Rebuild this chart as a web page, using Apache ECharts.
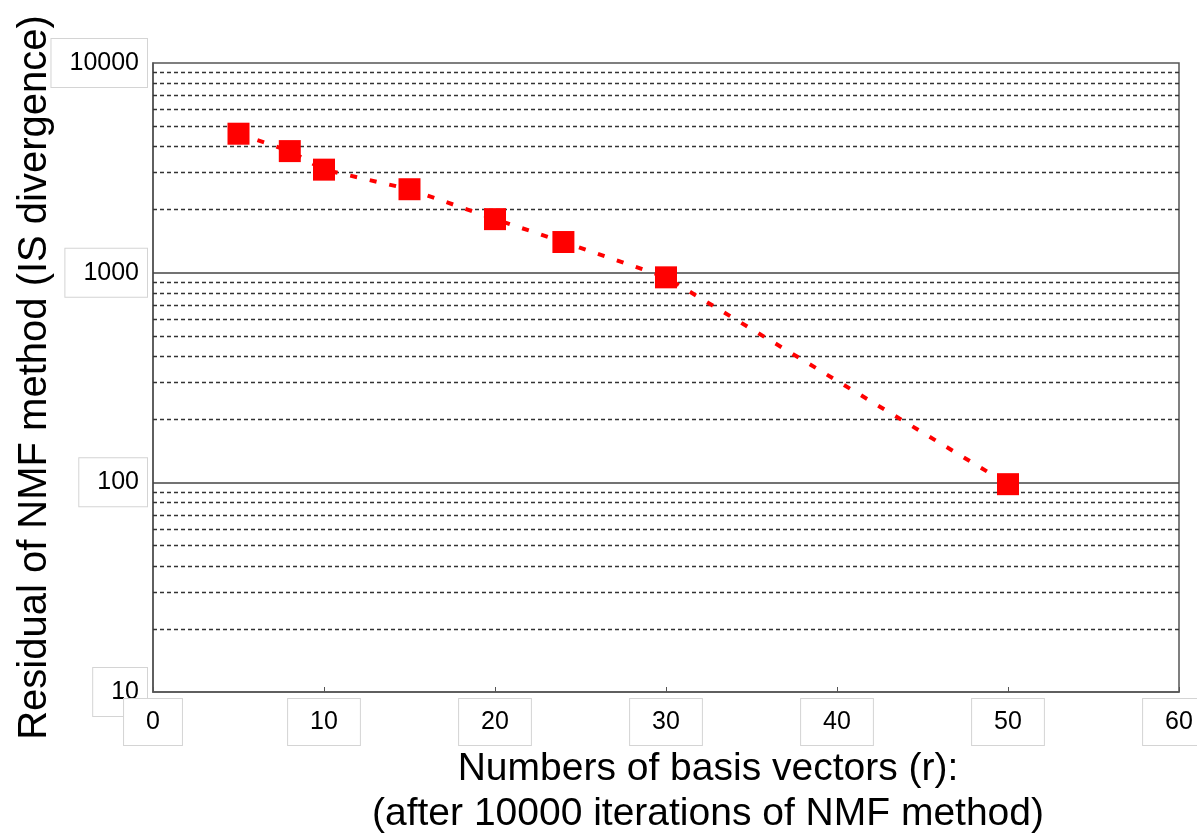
<!DOCTYPE html>
<html>
<head>
<meta charset="utf-8">
<script src="https://cdn.jsdelivr.net/npm/echarts@6/dist/echarts.min.js"></script>
<style>html,body{margin:0;padding:0;background:#fff;}#c{width:1197px;height:836px;}</style>
</head>
<body>
<div id="c"></div>
<script>
const basisVectors = [5, 8, 10, 15, 20, 24, 30, 50];
const residuals = [4600, 3800, 3100, 2500, 1800, 1400, 950, 98];
const minorGridValues = [20,30,40,50,60,70,80,90,200,300,400,500,600,700,800,900,2000,3000,4000,5000,6000,7000,8000,9000];
const majorGridValues = [100, 1000];
const xTitle = 'Numbers of basis vectors (r):';
const xSubtitle = '(after 10000 iterations of NMF method)';
const yTitle = 'Residual of NMF method (IS divergence)';

const FONT = '"Liberation Sans", Arial, sans-serif';
const chart = echarts.init(document.getElementById('c'));
const labelBox = { backgroundColor: '#fff', borderColor: '#d4d4d4', borderWidth: 1 };
chart.setOption({
  animation: false,
  backgroundColor: '#fff',
  grid: { left: 153, right: 18, top: 63, bottom: 144, containLabel: false, outerBoundsMode: 'none',
          show: true, borderColor: '#555', borderWidth: 1.5, backgroundColor: 'transparent' },
  xAxis: {
    type: 'value', min: 0, max: 60, interval: 10,
    axisLine: { lineStyle: { color: '#555', width: 1.5 } },
    axisTick: { inside: true, length: 5, lineStyle: { color: '#555' } },
    splitLine: { show: false },
    axisLabel: Object.assign({ fontFamily: FONT, fontSize: 25, color: '#000', margin: 7, padding: [11, 22, 10, 22],
      formatter: v => String(v) }, labelBox)
  },
  yAxis: {
    type: 'log', logBase: 10, min: 10, max: 10000,
    name: yTitle, nameLocation: 'middle', nameGap: 98, nameRotate: 90, nameMoveOverlap: false,
    nameTextStyle: { fontFamily: FONT, fontSize: 40, color: '#000' },
    axisLine: { lineStyle: { color: '#555', width: 1.5 } },
    axisTick: { show: false },
    splitLine: { show: false },
    axisLabel: Object.assign({ fontFamily: FONT, fontSize: 25, color: '#000', margin: 6, padding: [12, 8, 11, 18],
      formatter: v => String(Math.round(v)) }, labelBox)
  },
  graphic: [
    { type: 'text', x: 708, y: 769, style: { text: xTitle, font: '39px ' + FONT, fill: '#000', align: 'center', verticalAlign: 'middle' } },
    { type: 'text', x: 708, y: 814, style: { text: xSubtitle, font: '39px ' + FONT, fill: '#000', align: 'center', verticalAlign: 'middle' } }
  ],
  series: [
    {
      type: 'line', data: [], z: 1, silent: true,
      markLine: {
        silent: true, symbol: 'none', label: { show: false },
        data: minorGridValues.map(v => ({ yAxis: v, lineStyle: { color: '#333', width: 1.4, type: [4, 3] } }))
          .concat(majorGridValues.map(v => ({ yAxis: v, lineStyle: { color: '#444', width: 1.5, type: 'solid' } })))
      }
    },
    {
      type: 'line', z: 5,
      data: basisVectors.map((x, i) => [x, residuals[i]]),
      symbol: 'rect', symbolSize: 22,
      itemStyle: { color: '#ff0000' },
      lineStyle: { color: '#ff0000', width: 4, type: [7, 13] }
    }
  ]
});
</script>
</body>
</html>
